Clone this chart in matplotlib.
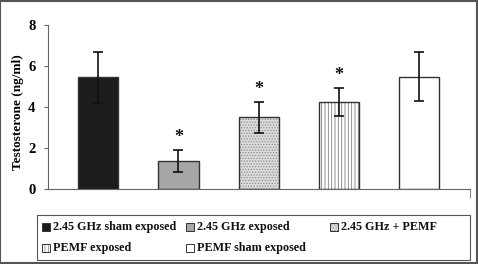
import matplotlib
matplotlib.use("Agg")
import matplotlib.pyplot as plt
from matplotlib.patches import Rectangle

categories = ["2.45 GHz sham exposed", "2.45 GHz exposed", "2.45 GHz + PEMF",
              "PEMF exposed", "PEMF sham exposed"]
values = [5.45, 1.35, 3.48, 4.23, 5.48]
errors = [1.25, 0.53, 0.75, 0.70, 1.22]
significant = [False, True, True, True, False]
yticks = [0, 2, 4, 6, 8]

facecolors = ["#1c1c1c", "#a6a6a6", "#dcdcdc", "#ffffff", "#ffffff"]
hatches = [None, None, "......", "|||||", None]
hatchcolors = ["k", "k", "#8a8a8a", "#7a7a7a", "k"]

plt.rcParams["font.family"] = ["Liberation Serif", "DejaVu Serif"]
plt.rcParams["font.weight"] = "bold"

W, H = 478, 264
fig = plt.figure(figsize=(W/100, H/100), dpi=100)
ax = fig.add_axes([48/W, (H-188.5)/H, (470-48)/W, (188.5-25)/H])

x = list(range(len(categories)))
for i in x:
    b = ax.bar(i, values[i], width=0.5, color=facecolors[i], edgecolor="#333333",
               linewidth=1.0, hatch=hatches[i], zorder=2)
    if hatches[i]:
        b[0].set_hatch_linewidth(0.6)
        b[0]._hatch_color = matplotlib.colors.to_rgba(hatchcolors[i])

ax.errorbar(x, values, yerr=errors, fmt="none", ecolor="#111111", elinewidth=1.2,
            capsize=3.3, capthick=1.2, zorder=3)

for i in x:
    if significant[i]:
        ax.text(i, values[i] + errors[i] + 0.2, "*", ha="center", va="bottom",
                fontsize=13, fontweight="bold", color="#111111")

ax.set_xlim(-0.625, 4.63)
ax.set_ylim(0, 8)
ax.set_yticks(yticks)
ax.set_yticklabels([str(t) for t in yticks], fontsize=10.5, fontweight="bold")
ax.set_xticks([])
ax.spines["top"].set_visible(False)
ax.spines["right"].set_visible(False)
ax.spines["left"].set_color("#666666")
ax.spines["bottom"].set_color("#666666")
ax.tick_params(axis="y", length=3, width=0.8, color="#666666", pad=6)
ax.set_ylabel("Testosterone (ng/ml)", fontsize=9.5, fontweight="bold")
ax.yaxis.set_label_coords(-0.058, 0.465)
# small end tick at right of category axis
ax.plot([1, 1], [0, -0.05], transform=ax.transAxes, color="#888888",
        lw=0.8, clip_on=False)

# legend drawn manually (Excel-style equal-width columns)
fig.patches.append(Rectangle((37/W, (H-260)/H), (470-37)/W, (260-215)/H,
                             transform=fig.transFigure, fill=False,
                             edgecolor="#555555", linewidth=0.8))
col_x = [42, 186, 330]
row_y = [227, 248]
slots = [(0, 0), (0, 1), (0, 2), (1, 0), (1, 1)]
for k, (r, c) in enumerate(slots):
    mx, my = col_x[c], row_y[r]
    sq = Rectangle((mx/W, (H-my-4)/H), 8/W, 8/H, transform=fig.transFigure,
                   facecolor=facecolors[k], edgecolor="#333333", linewidth=0.7,
                   hatch=hatches[k])
    if hatches[k]:
        sq.set_hatch_linewidth(0.5)
        sq._hatch_color = matplotlib.colors.to_rgba(hatchcolors[k])
    fig.patches.append(sq)
    fig.text((mx + 11)/W, (H-my)/H, categories[k], ha="left", va="center",
             fontsize=8.7, fontweight="bold", color="#111111")

fig.patches.append(Rectangle((0.001, 0.002), 0.997, 0.995, transform=fig.transFigure,
                             fill=False, edgecolor="#555555", linewidth=1.5))

fig.savefig("out.png", dpi=100)
